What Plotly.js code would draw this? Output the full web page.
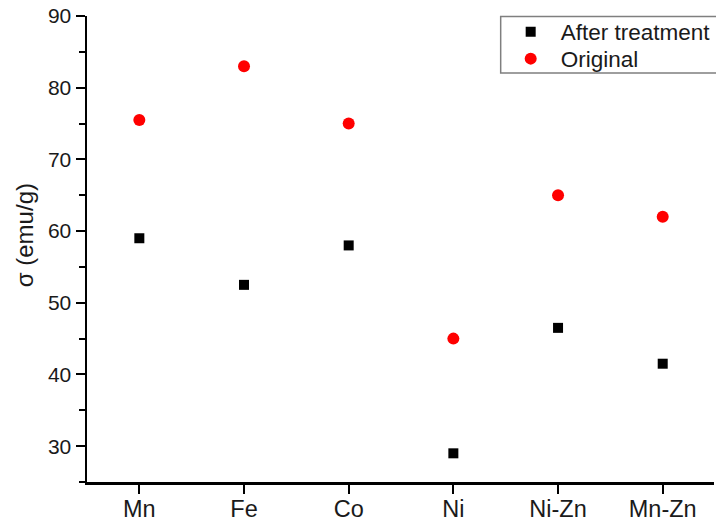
<!DOCTYPE html>
<html>
<head>
<meta charset="utf-8">
<script src="https://cdn.plot.ly/plotly-3.0.1.min.js"></script>
<style>html,body{margin:0;padding:0;background:#fff;}#chart{width:716px;height:525px;}</style>
</head>
<body>
<div id="chart"></div>
<script>
var categories = ["Mn", "Fe", "Co", "Ni", "Ni-Zn", "Mn-Zn"];
var afterTreatment = [59, 52.5, 58, 29, 46.5, 41.5];
var original = [75.5, 83, 75, 45, 65, 62];
var yTickValues = [30, 40, 50, 60, 70, 80, 90];

var FONT = "Arial, 'Liberation Sans', sans-serif";
var TXT = "#1a1a1a";

var traces = [
  {
    x: categories, y: afterTreatment, name: "After treatment",
    type: "scatter", mode: "markers", legend: "legend",
    marker: {symbol: "square", size: 10, color: "#000000"}
  },
  {
    x: categories, y: original, name: "Original",
    type: "scatter", mode: "markers", legend: "legend2",
    marker: {symbol: "circle", size: 12, color: "#ff0000"}
  }
];

// plot area: left 87, top 16, bottom 482 (height 466), width 629
function py(p) { return 1 - (p - 16) / 466; }
function px(p) { return (p - 87) / 629; }

var legendCommon = {
  xanchor: "left", yanchor: "middle",
  borderwidth: 0, bgcolor: "rgba(0,0,0,0)",
  font: {family: FONT, size: 22.5, color: TXT},
  itemwidth: 50
};

var layout = {
  width: 716, height: 525,
  margin: {l: 87, r: 0, t: 16, b: 43},
  paper_bgcolor: "#ffffff", plot_bgcolor: "#ffffff",
  font: {family: FONT, color: TXT},
  showlegend: true,
  legend: Object.assign({}, legendCommon, {x: px(502), y: py(32)}),
  legend2: Object.assign({}, legendCommon, {x: px(502), y: py(59)}),
  shapes: [{
    type: "rect", xref: "paper", yref: "paper",
    x0: px(502), x1: px(730), y0: py(73), y1: py(16.5),
    line: {color: "#7f7f7f", width: 1.5}, fillcolor: "rgba(0,0,0,0)", layer: "below"
  }],
  annotations: [{
    text: "σ (emu/g)", xref: "paper", yref: "paper",
    x: px(24), y: py(235), xanchor: "center", yanchor: "middle",
    textangle: -90, showarrow: false,
    font: {family: FONT, size: 24, color: TXT}
  }],
  xaxis: {
    type: "category", range: [-0.5, 5.49],
    showline: true, linecolor: "#000", linewidth: 2.5,
    showgrid: false, zeroline: false,
    ticks: "outside", ticklen: 9, tickwidth: 2, tickcolor: "#000",
    tickfont: {family: FONT, size: 23.5, color: TXT},
    ticklabelstandoff: -5,
    minor: {ticks: "outside", ticklen: 6, tickwidth: 2, tickcolor: "#000", dtick: 1, tick0: -0.5, showgrid: false},
    fixedrange: true
  },
  yaxis: {
    range: [25, 90], tickvals: yTickValues, ticktext: yTickValues.map(String),
    showline: true, linecolor: "#000", linewidth: 2.5,
    showgrid: false, zeroline: false,
    ticks: "outside", ticklen: 9, tickwidth: 2, tickcolor: "#000",
    tickfont: {family: FONT, size: 21, color: TXT},
    minor: {ticks: "outside", ticklen: 6, tickwidth: 2, tickcolor: "#000", tickvals: [25, 35, 45, 55, 65, 75, 85], showgrid: false},
    fixedrange: true
  }
};

Plotly.newPlot("chart", traces, layout, {displayModeBar: false, staticPlot: true});
</script>
</body>
</html>
